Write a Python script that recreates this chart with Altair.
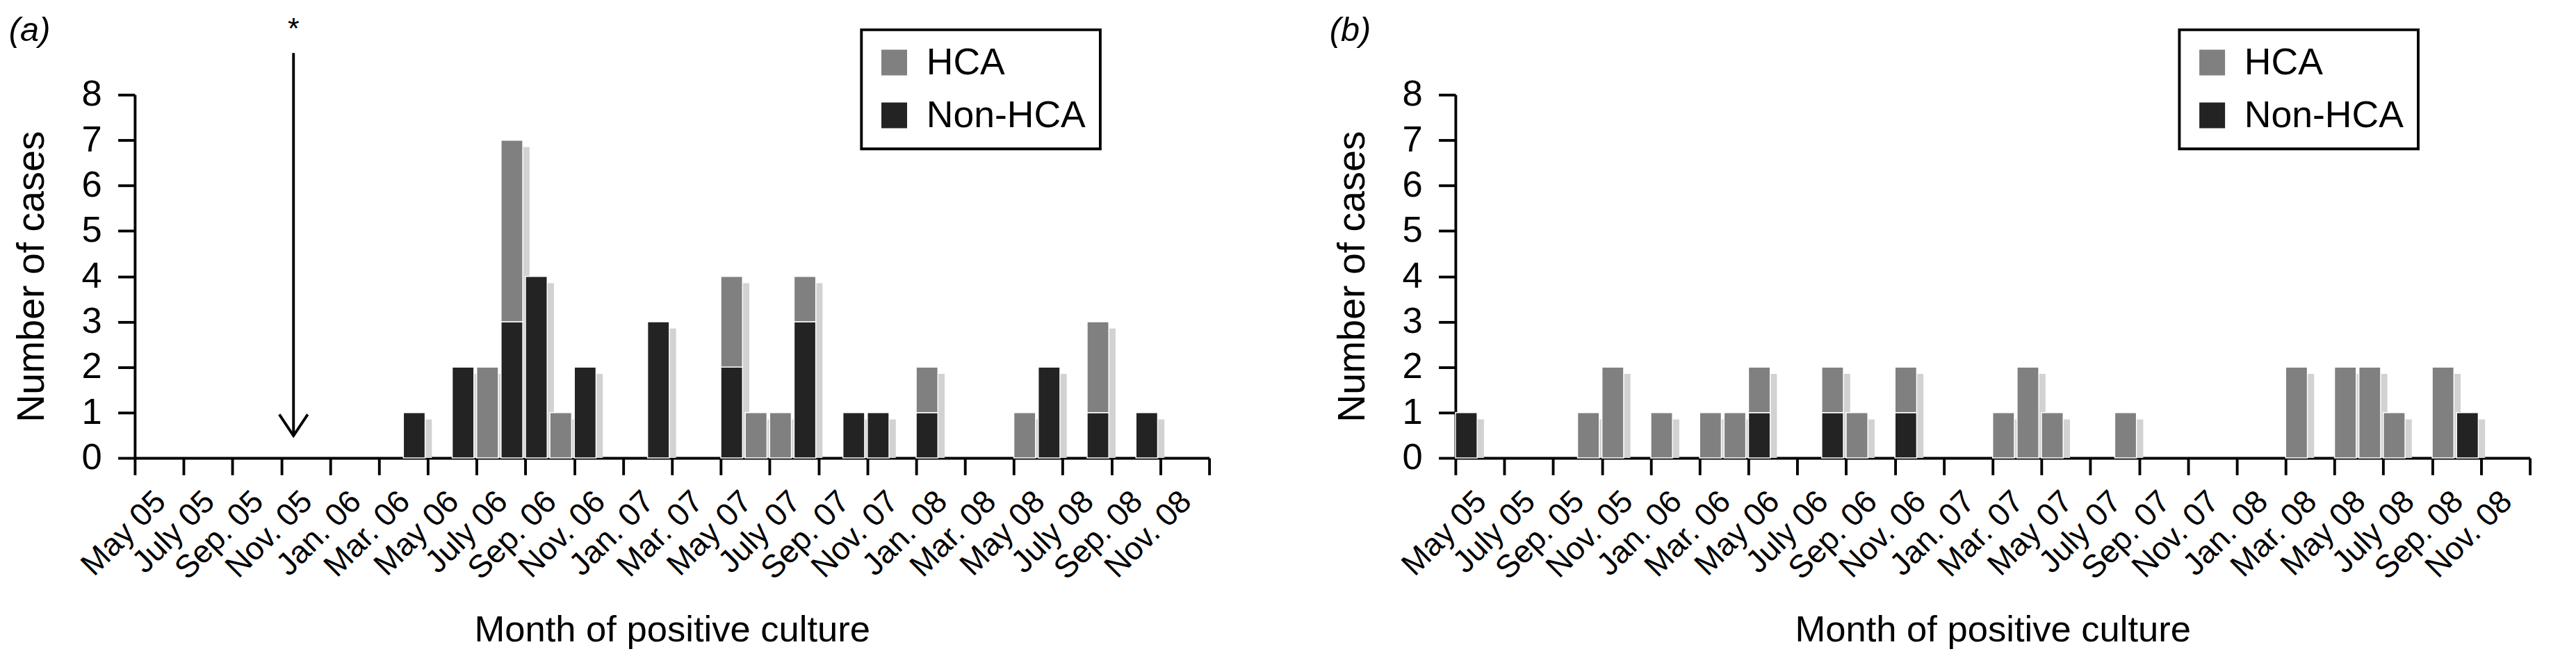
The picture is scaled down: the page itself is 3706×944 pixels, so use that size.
import json
import altair as alt
import pandas as pd

# ---- categories: one slot per month, May 2005 .. Dec 2008 ----
MONTHS = ["May 05", "Jun. 05", "July 05", "Aug. 05", "Sep. 05", "Oct. 05", "Nov. 05", "Dec. 05",
          "Jan. 06", "Feb. 06", "Mar. 06", "Apr. 06", "May 06", "Jun. 06", "July 06", "Aug. 06",
          "Sep. 06", "Oct. 06", "Nov. 06", "Dec. 06",
          "Jan. 07", "Feb. 07", "Mar. 07", "Apr. 07", "May 07", "Jun. 07", "July 07", "Aug. 07",
          "Sep. 07", "Oct. 07", "Nov. 07", "Dec. 07",
          "Jan. 08", "Feb. 08", "Mar. 08", "Apr. 08", "May 08", "Jun. 08", "July 08", "Aug. 08",
          "Sep. 08", "Oct. 08", "Nov. 08", "Dec. 08"]
TICK_LABELS = MONTHS[::2]

# ---- series values ----
A_NON = [0, 0, 0, 0, 0, 0, 0, 0, 0, 0,
         0, 1, 0, 2, 0, 3, 4, 0, 2, 0,
         0, 3, 0, 0, 2, 0, 0, 3, 0, 1,
         1, 0, 1, 0, 0, 0, 0, 2, 0, 1,
         0, 1, 0, 0]
A_HCA = [0, 0, 0, 0, 0, 0, 0, 0, 0, 0,
         0, 0, 0, 0, 2, 4, 0, 1, 0, 0,
         0, 0, 0, 0, 2, 1, 1, 1, 0, 0,
         0, 0, 1, 0, 0, 0, 1, 0, 0, 2,
         0, 0, 0, 0]
B_NON = [1, 0, 0, 0, 0, 0, 0, 0, 0, 0,
         0, 0, 1, 0, 0, 1, 0, 0, 1, 0,
         0, 0, 0, 0, 0, 0, 0, 0, 0, 0,
         0, 0, 0, 0, 0, 0, 0, 0, 0, 0,
         0, 1, 0, 0]
B_HCA = [0, 0, 0, 0, 0, 1, 2, 0, 1, 0,
         1, 1, 1, 0, 0, 1, 1, 0, 1, 0,
         0, 0, 1, 2, 1, 0, 0, 1, 0, 0,
         0, 0, 0, 0, 2, 0, 2, 2, 1, 0,
         2, 0, 0, 0]

CATS = ["HCA", "Non-HCA"]
COLORS = ["#808080", "#232323"]

# annotation in panel (a): arrow down to Nov. 05 with asterisk
ARROW_MONTH = "Nov. 05"
ARROW_TOP = 8.92
ARROW_TIP = 0.49
STAR_Y = 9.24

FONT = "Liberation Sans"
N = len(MONTHS)


def stacked(non, hca):
    rows = []
    for i, (n, h) in enumerate(zip(non, hca)):
        if n:
            rows.append(dict(month=MONTHS[i], start=i, end=i + 1, y0=0, y1=n, cat="Non-HCA"))
        if h:
            rows.append(dict(month=MONTHS[i], start=i, end=i + 1, y0=n, y1=n + h, cat="HCA"))
    return pd.DataFrame(rows)


def totals(non, hca):
    rows = []
    for i, (n, h) in enumerate(zip(non, hca)):
        if n + h:
            rows.append(dict(month=MONTHS[i], start=i, end=i + 1, total=n + h))
    return pd.DataFrame(rows)


label_expr = "datum.value < %d ? %s[datum.value / 2] : ''" % (N, json.dumps(TICK_LABELS))

x_scale = alt.Scale(domain=[0, N], nice=False, zero=False)
y_scale = alt.Scale(domain=[0, 8], nice=False)

x_axis = alt.Axis(values=list(range(0, N + 1, 2)), labelExpr=label_expr, labelAngle=-45,
                  labelAlign="right", labelBaseline="middle", labelOffset=38, labelPadding=32,
                  labelFlush=False, labelOverlap=False, labelFontSize=47, labelLimit=0,
                  tickSize=25, tickWidth=4, domainWidth=4, tickColor="black",
                  domainColor="black", labelColor="black", grid=False,
                  title="Month of positive culture", titleFontSize=54,
                  titleFontWeight="normal", titleColor="black", titlePadding=40)
y_axis = alt.Axis(values=list(range(9)), tickSize=25, tickWidth=4, domainWidth=4,
                  tickColor="black", domainColor="black", labelColor="black", labelFontSize=54,
                  labelPadding=24, labelFlush=False, grid=False, title="Number of cases",
                  titleFontSize=57, titleFontWeight="normal", titleColor="black", titlePadding=44)


def X(field):
    return alt.X(field, type="quantitative", scale=x_scale, axis=x_axis)


def Y(field):
    return alt.Y(field, type="quantitative", scale=y_scale, axis=y_axis)


def panel(non, hca, tag, legend_x, arrow=False):
    bars = stacked(non, hca)
    tot = totals(non, hca)
    shadow = alt.Chart(tot).mark_bar(color="#d2d2d2", xOffset=6, x2Offset=6, yOffset=10,
                                     y2Offset=0).encode(
        x=X("start"), x2="end", y=Y("total"), y2=alt.datum(0))
    main = alt.Chart(bars).mark_bar(x2Offset=-4, stroke="white", strokeWidth=1.5).encode(
        x=X("start"), x2="end", y=Y("y1"), y2="y0",
        color=alt.Color("cat:N", scale=alt.Scale(domain=CATS, range=COLORS),
                        legend=alt.Legend(orient="none", legendX=legend_x, legendY=-96,
                                          title=None, symbolType="square", symbolSize=1444,
                                          symbolStrokeWidth=0, symbolOpacity=1,
                                          labelFontSize=55, labelOffset=20, labelColor="black",
                                          labelLimit=0, rowPadding=22, padding=21,
                                          strokeColor="black", fillColor="white")),
    )
    # panel tag "(a)" / "(b)" in the top-left corner
    tag_mark = alt.Chart(pd.DataFrame({"tag": [tag]})).mark_text(
        fontSize=50, fontStyle="italic", align="left", baseline="middle", color="black"
    ).encode(text="tag:N", x=alt.value(-186), y=alt.value(-94))
    layers = [shadow, main, tag_mark]
    if arrow:
        i = MONTHS.index(ARROW_MONTH)
        adf = pd.DataFrame({"x": [i + 0.5], "top": [ARROW_TOP], "tip": [ARROW_TIP],
                            "star": [STAR_Y]})
        rule = alt.Chart(adf).mark_rule(color="black", strokeWidth=4).encode(
            x=X("x"), y=Y("top"), y2="tip")
        head = alt.Chart(adf).mark_point(shape="M -1 -1.5 L 0 0 L 1 -1.5", size=1764,
                                         filled=False, strokeWidth=4, color="black",
                                         opacity=1).encode(x=X("x"), y=Y("tip"))
        star = alt.Chart(adf).mark_text(text="*", fontSize=44, baseline="alphabetic",
                                        align="center", color="black").encode(
            x=X("x"), y=Y("star"))
        layers += [rule, head, star]
    return alt.layer(*layers).properties(width=1588, height=537)


chart = alt.hconcat(
    panel(A_NON, A_HCA, "(a)", 1074, arrow=True),
    panel(B_NON, B_HCA, "(b)", 1070),
    spacing=123,
).resolve_scale(color="independent").configure(
    font=FONT, background="white", padding={"left": 5, "top": 0, "right": 5, "bottom": 0}
).configure_view(stroke=None).configure_legend(strokeWidth=4)

chart.save("out.html", embed_options={"renderer": "svg", "actions": False})
